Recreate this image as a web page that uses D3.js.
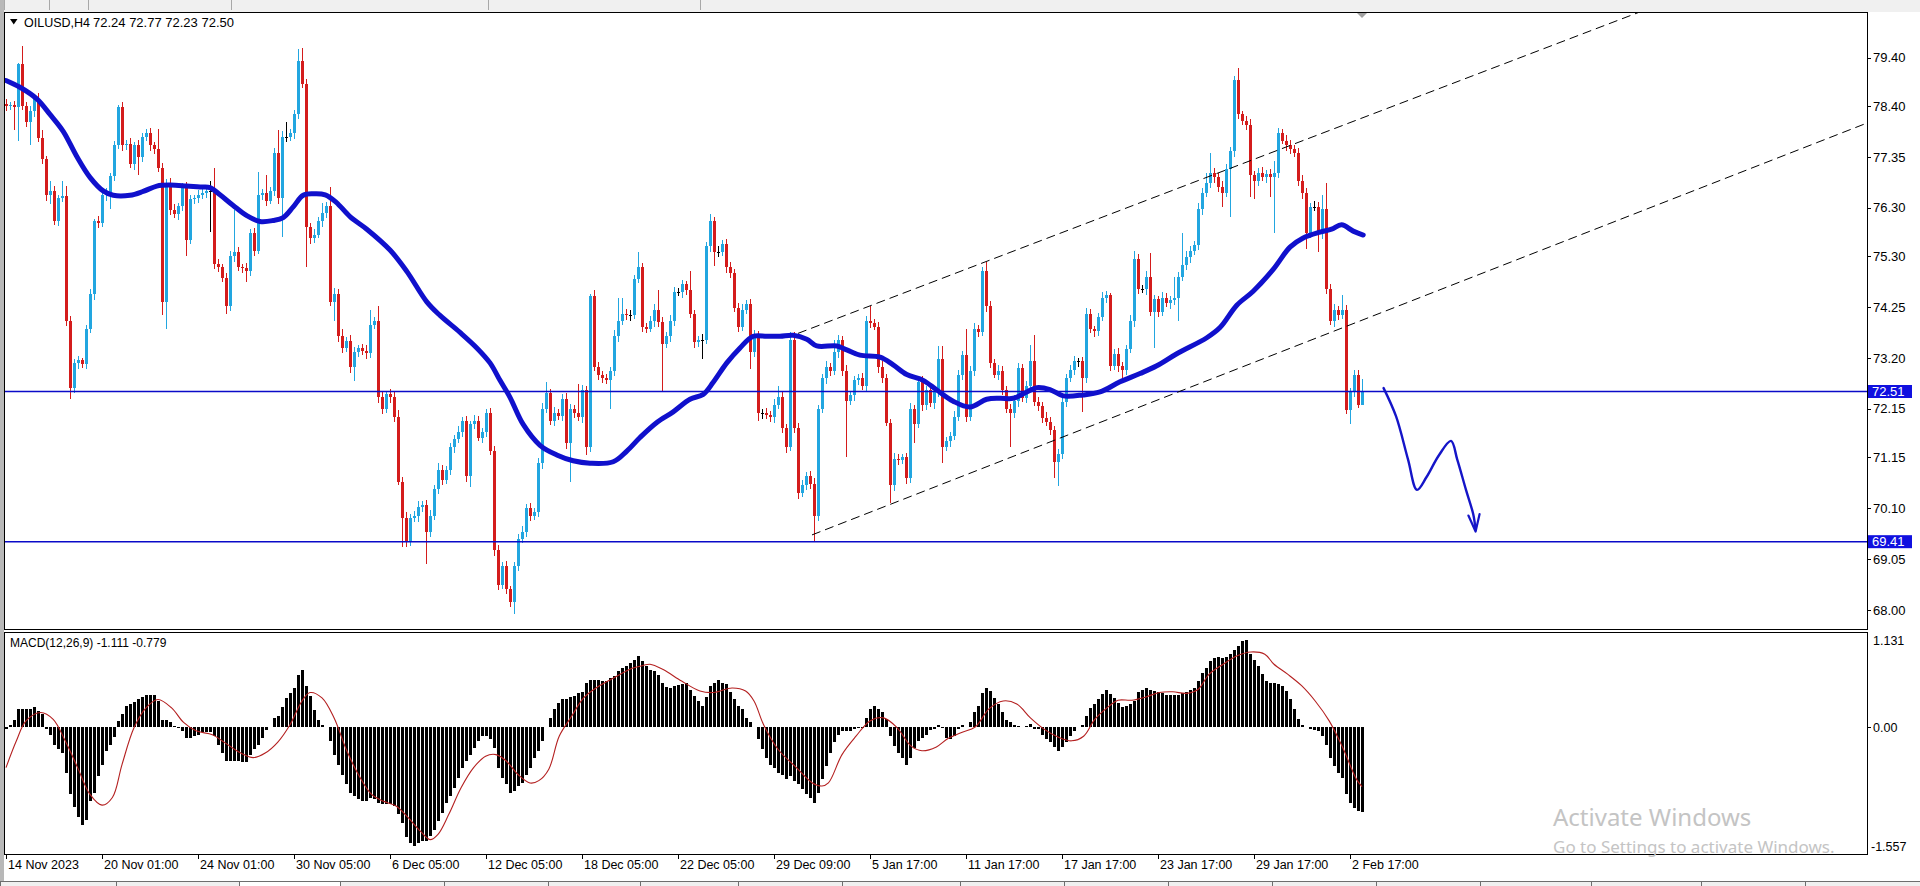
<!DOCTYPE html>
<html><head><meta charset="utf-8">
<script src="https://cdn.jsdelivr.net/npm/d3@7"></script>
<style>
html,body{margin:0;padding:0;background:#fff;overflow:hidden}
svg{display:block}
text{font-family:"Liberation Sans",Arial,sans-serif;font-size:12px;fill:#000}
</style>
</head><body>
<svg id="c" width="1920" height="886"></svg>
<script>
// ---------------- DATA ----------------
const symbol = "OILUSD,H4";
const lastQuote = "72.24 72.77 72.23 72.50";
const macdTitle = "MACD(12,26,9) -1.111 -0.779";
const watermark1 = "Activate Windows";
const watermark2 = "Go to Settings to activate Windows.";

const firstOpen = 78.45;
const closes = [
78.40,78.42,78.38,79.26,78.40,78.07,78.30,78.55,77.75,77.30,
76.57,76.65,76.02,76.50,76.55,73.97,72.58,73.10,73.15,73.08,
73.80,74.52,76.02,75.98,76.57,76.62,76.96,77.60,78.39,77.60,
77.62,77.20,77.60,77.35,77.76,77.84,77.60,77.52,77.13,74.36,
76.81,76.26,76.18,76.34,76.73,75.63,76.49,76.50,76.57,76.60,
76.65,76.65,75.15,75.07,74.85,74.28,75.30,75.39,75.07,75.05,
75.00,75.78,75.42,76.57,76.60,76.45,76.65,77.44,76.50,77.76,
77.76,77.84,78.23,79.34,78.86,75.90,75.67,75.75,76.02,76.20,
76.34,74.36,74.52,73.65,73.40,73.55,73.02,73.33,73.40,73.35,
73.30,73.89,73.97,72.39,72.15,72.45,72.40,71.99,70.65,69.90,
69.42,69.90,69.94,70.13,70.17,69.62,69.94,70.49,70.89,70.69,
70.89,71.36,71.52,71.68,71.91,70.77,71.83,71.91,71.56,71.68,
72.07,71.28,69.23,68.52,68.91,68.44,68.16,68.91,69.46,69.62,
70.10,69.94,70.02,71.04,72.15,72.47,71.91,72.07,72.00,72.35,
71.44,72.15,72.07,71.99,72.54,71.36,74.48,73.02,72.86,72.78,
72.74,72.94,73.65,73.97,74.12,74.08,74.08,74.84,75.07,73.85,
73.81,73.97,74.20,73.95,73.49,73.65,73.97,74.56,74.56,74.72,
74.60,74.10,73.53,73.57,73.57,75.51,76.02,75.39,75.39,75.55,
75.07,74.95,74.24,73.85,74.20,74.32,73.33,73.65,72.07,72.07,
72.03,71.99,72.23,72.39,71.75,71.36,73.57,71.75,70.41,70.57,
70.77,70.61,69.94,72.15,72.78,73.02,72.94,73.33,73.57,72.94,
72.31,72.43,72.74,72.78,72.62,73.97,73.93,73.85,73.02,72.78,
71.87,70.57,71.12,71.10,71.15,70.73,72.15,71.83,72.70,72.23,
72.54,72.27,72.50,73.18,71.36,71.48,71.60,71.99,72.86,73.26,
71.99,72.94,73.81,73.73,74.99,74.28,73.10,72.86,72.94,72.54,
72.15,72.07,72.31,73.00,72.38,72.63,73.13,72.30,72.21,71.97,
71.88,71.72,71.05,71.22,72.30,72.79,72.96,73.13,73.13,72.79,
74.12,73.79,73.75,74.04,74.45,74.50,73.04,73.29,73.04,72.96,
73.38,73.96,75.24,74.62,74.62,74.87,74.16,74.41,74.16,74.45,
74.33,74.40,74.45,74.87,75.12,75.28,75.41,75.53,76.28,76.61,
76.82,77.02,76.94,76.73,76.61,77.11,77.48,78.93,78.23,78.10,
78.02,76.98,76.86,77.02,76.94,77.00,76.94,77.02,77.85,77.69,
77.60,77.52,77.44,76.86,76.61,75.78,76.32,76.32,75.78,76.28,
74.62,73.96,74.20,74.08,74.20,72.13,72.50,72.85,72.24,72.50];

// upper / lower wick lengths in cents
const upWick = [
10,6,8,4,38,8,10,6,12,15, 8,20,10,6,30,21,10,8,10,6, 8,10,6,12,8,10,6,8,4,10,
8,12,6,10,8,8,10,6,40,10, 8,10,12,6,8,10,8,6,10,8, 6,20,48,10,8,10,12,87,10,8,
12,8,10,48,10,37,8,10,46,12, 31,8,10,24,27,10,8,12,10,20, 8,39,12,10,14,8,12,10,8,10,
12,31,8,31,10,8,12,10,14,10, 12,8,10,12,8,10,12,8,15,10, 8,8,10,12,8,10,8,12,10,8,
8,10,10,12,8,10,6,8,10,12, 8,10,8,10,12,23,10,12,8,10, 12,10,8,59,10,8,4,12,10,8,
10,8,12,47,32,10,12,8,32,10, 8,10,12,40,10,8,12,10,8,10, 8,39,10,8,12,8,16,10,12,8,
10,12,8,10,12,8,10,12,10,8, 10,8,12,23,10,8,16,16,10,12, 8,10,12,8,10,12,8,24,10,8,
12,10,8,10,12,10,31,8,10,12, 10,8,12,10,8,10,12,8,10,12, 8,10,12,27,27,10,8,12,10,8,
55,10,12,8,8,20,10,8,12,10, 8,10,12,10,8,10,33,54,10,8, 12,10,8,10,12,8,10,12,8,10,
12,10,8,10,12,8,5,10,12,8, 10,12,17,10,8,12,50,10,8,12, 10,8,42,10,66,12,10,8,12,10,
20,42,10,8,12,10,8,10,25,8, 10,12,8,10,12,8,10,25,10,8, 12,10,8,10,12,10,8,12,10,29,
54,10,12,8,30,10,8,10,10,27];
const dnWick = [
10,8,48,70,8,10,47,12,8,10, 12,20,8,10,8,10,23,10,12,8, 10,8,12,10,8,12,35,10,8,12,
10,8,12,38,10,8,12,10,8,28, 56,10,8,12,10,32,8,12,10,8, 10,85,12,10,8,18,10,12,8,10,
24,10,12,8,10,12,8,10,12,80, 10,8,12,10,8,83,12,10,8,12, 10,8,39,12,10,8,12,30,10,8,
12,10,8,12,10,8,12,10,8,60, 12,10,8,12,10,67,12,8,10,12, 8,10,12,8,10,12,24,10,8,12,
10,8,12,10,8,12,10,24,10,8, 12,10,8,10,12,8,10,12,8,10, 12,79,10,8,12,16,10,8,12,10,
8,59,10,12,8,10,12,8,10,12, 10,8,12,10,99,8,12,10,8,12, 10,8,12,10,39,8,12,28,10,8,
12,10,8,12,10,8,35,10,16,12, 8,10,12,8,10,12,8,10,12,8, 10,12,52,10,8,12,10,8,12,10,
115,8,12,10,8,12,10,8,12,10, 8,36,12,10,8,12,10,39,8,12, 10,8,12,10,32,8,12,10,8,12,
10,8,12,10,8,12,10,8,12,10, 8,71,10,12,8,10,12,8,10,12, 8,10,33,49,10,12,8,10,12,70,
10,8,12,10,8,12,10,8,12,20, 10,8,12,10,8,12,10,75,12,10, 8,12,10,49,8,10,12,8,10,12,
8,10,12,10,29,8,100,12,10,8, 12,45,37,10,8,12,42,116,10,8, 12,10,8,10,12,33,10,8,40,12,
10,8,12,10,8,8,29,10,8,1];

// moving average (read at sample bars)
const maIdx = [0,3.5,7.7,11,14.3,17.7,21,24.3,26.8,31,34.3,37.7,41,45.2,48.5,51,53.5,56.8,60.2,63.5,66.8,69.3,71.8,74.3,76.8,79.8,82.5,86,90.2,96,100.2,105.2,108.5,113.5,117.7,121,123.5,126,129.3,133.5,137.7,141.8,146,151.8,155.2,158.5,162.7,166.8,171,174.3,176.8,180.2,183.5,186.8,190.2,193.5,196.8,200.2,202.7,207.7,210.2,213.5,218.5,221.8,225.2,229.3,232.7,236.8,241,245.2,248.5,251.8,255.2,257.7,261,264.3,269.3,273.5,278.5,283.5,287.7,292.7,300.2,303.5,307.7,311.8,316.8,321,324.3,328.5,331.4,333.9,336.8,339.3];
const maVal = [78.93,78.79,78.55,78.23,77.88,77.36,76.93,76.65,76.56,76.56,76.64,76.75,76.77,76.75,76.73,76.72,76.57,76.35,76.14,76.02,76.04,76.10,76.32,76.56,76.59,76.57,76.42,76.12,75.86,75.43,74.99,74.36,74.08,73.73,73.41,73.10,72.74,72.39,71.83,71.40,71.20,71.08,71.03,71.06,71.28,71.56,71.87,72.09,72.35,72.45,72.70,73.10,73.41,73.65,73.65,73.65,73.67,73.59,73.45,73.45,73.37,73.26,73.22,73.06,72.86,72.74,72.54,72.31,72.19,72.35,72.37,72.37,72.50,72.59,72.55,72.42,72.44,72.50,72.71,72.88,73.04,73.29,73.62,73.83,74.29,74.58,75.03,75.49,75.68,75.80,75.86,75.95,75.82,75.74];

const priceTicks = [79.40,78.40,77.35,76.30,75.30,74.25,73.20,72.15,71.15,70.10,69.05,68.00];
const levels = [72.51, 69.41];
const channelUpper = [[198, 73.71],[244, 75.16]];
const channelLower = [[201.5, 69.55],[262, 71.50]];
const arrowIdx = [344.4,347.5,350.5,352.75,355.1,358.2,361.25,362.8,365,366.8,367.4];
const arrowVal = [72.58,72.00,71.11,70.48,70.74,71.19,71.49,71.11,70.48,69.98,69.65];
const arrowHeadIdx = [365.6,367.4,368.4];
const arrowHeadVal = [69.95,69.62,69.98];

const macdHist = [
-0.03,0.03,0.09,0.23,0.23,0.24,0.24,0.26,0.21,0.17,
-0.03,-0.10,-0.23,-0.29,-0.34,-0.60,-0.88,-1.05,-1.18,-1.28,
-1.21,-0.97,-0.86,-0.64,-0.49,-0.31,-0.23,-0.13,0.08,0.17,
0.27,0.30,0.33,0.36,0.39,0.42,0.42,0.42,0.34,0.09,
0.09,0.06,0.02,-0.01,-0.05,-0.14,-0.14,-0.12,-0.10,-0.07,
-0.06,-0.07,-0.12,-0.23,-0.34,-0.44,-0.44,-0.44,-0.44,-0.45,
-0.45,-0.36,-0.29,-0.23,-0.14,-0.04,0.00,0.12,0.14,0.26,
0.38,0.45,0.51,0.68,0.74,0.54,0.40,0.22,0.09,0.03,
0.00,-0.18,-0.36,-0.49,-0.63,-0.75,-0.86,-0.90,-0.94,-0.96,
-0.96,-0.92,-0.94,-0.99,-1.00,-1.00,-1.00,-1.03,-1.14,-1.25,
-1.44,-1.52,-1.557,-1.51,-1.49,-1.49,-1.42,-1.34,-1.23,-1.12,
-0.99,-0.90,-0.79,-0.66,-0.53,-0.44,-0.36,-0.27,-0.18,-0.12,
-0.12,-0.16,-0.27,-0.53,-0.66,-0.75,-0.86,-0.84,-0.77,-0.73,
-0.62,-0.53,-0.40,-0.31,-0.18,0.00,0.12,0.23,0.32,0.37,
0.37,0.39,0.40,0.45,0.46,0.58,0.62,0.62,0.61,0.60,
0.60,0.64,0.67,0.73,0.77,0.80,0.84,0.88,0.93,0.86,
0.80,0.74,0.73,0.68,0.58,0.52,0.51,0.54,0.55,0.56,
0.57,0.49,0.40,0.34,0.27,0.39,0.54,0.58,0.61,0.58,
0.56,0.46,0.36,0.27,0.23,0.12,0.06,0.00,-0.15,-0.29,
-0.41,-0.50,-0.53,-0.60,-0.63,-0.68,-0.64,-0.70,-0.75,-0.81,
-0.88,-0.92,-0.99,-0.86,-0.68,-0.51,-0.34,-0.19,-0.10,-0.05,
-0.05,-0.05,-0.03,-0.01,-0.01,0.12,0.24,0.27,0.24,0.20,
0.10,-0.12,-0.25,-0.34,-0.40,-0.49,-0.40,-0.28,-0.18,-0.14,
-0.10,-0.04,-0.03,0.03,-0.01,-0.14,-0.16,-0.12,-0.03,0.03,
0.00,0.07,0.19,0.27,0.45,0.51,0.47,0.38,0.30,0.19,
0.09,0.06,0.03,0.01,0.00,0.01,0.04,-0.02,-0.03,-0.10,
-0.15,-0.19,-0.26,-0.31,-0.26,-0.19,-0.12,-0.05,0.00,0.03,
0.14,0.25,0.30,0.36,0.43,0.49,0.43,0.38,0.32,0.26,
0.27,0.30,0.34,0.46,0.49,0.51,0.49,0.47,0.46,0.44,
0.42,0.42,0.42,0.42,0.44,0.46,0.48,0.51,0.60,0.71,
0.77,0.86,0.90,0.91,0.90,0.91,0.95,1.00,1.06,1.12,
1.131,0.95,0.88,0.80,0.69,0.60,0.57,0.57,0.56,0.54,
0.47,0.36,0.23,0.10,0.03,0.00,-0.03,-0.04,-0.05,-0.12,
-0.23,-0.40,-0.51,-0.60,-0.66,-0.88,-0.99,-1.06,-1.10,-1.111];
const sigIdx = [0,2.6,5,8.7,11.8,14.8,17.9,21,24,26.6,29,32,35,38,41.4,44.4,47.5,51.6,54.6,58.7,61.8,64.8,67.9,71,74,76,79,82,85.2,88.3,91.4,94.4,97.5,100.5,103.6,106,108,110.7,113.8,116.9,119.9,122.5,125,128,131,133.2,135.7,138.3,141.4,144.4,147.5,150.5,153.6,156.7,159,161,164.3,168.9,173.5,176.9,181.5,184.9,187,189.4,193,197.6,201.6,204,205.6,209,212.5,216,219.4,222.8,226.3,229,232.6,235.5,238.9,242.3,245.8,249.3,252.7,256.1,259.6,263,266.4,269.4,272.2,275.7,278,281.4,284.8,288.3,291.7,295.1,298,300.8,304.3,307.8,311.2,314.7,317,320.4,323.9,327.3,330.8,334.2,337.6,339];
const sigVal = [-0.53,-0.18,0.08,0.19,0.10,-0.18,-0.53,-0.88,-1.02,-0.92,-0.49,-0.01,0.25,0.36,0.25,0.06,-0.05,-0.10,-0.20,-0.34,-0.40,-0.34,-0.20,0.03,0.34,0.45,0.38,0.12,-0.31,-0.64,-0.88,-0.97,-1.03,-1.18,-1.36,-1.47,-1.40,-1.14,-0.79,-0.53,-0.38,-0.36,-0.44,-0.62,-0.73,-0.70,-0.55,-0.12,0.14,0.38,0.51,0.60,0.69,0.77,0.80,0.82,0.75,0.60,0.47,0.45,0.51,0.47,0.34,0.03,-0.29,-0.53,-0.73,-0.77,-0.73,-0.36,-0.12,0.08,0.12,-0.01,-0.25,-0.31,-0.26,-0.15,-0.07,0.00,0.24,0.34,0.30,0.12,-0.03,-0.13,-0.18,-0.12,0.10,0.27,0.35,0.35,0.39,0.45,0.46,0.44,0.49,0.69,0.82,0.93,0.98,0.95,0.82,0.69,0.54,0.34,0.08,-0.27,-0.68,-0.779];
const macdTicks = [1.131, 0.00, -1.557];

const timeIdx = [0,24,48,72,96,120,144,168,192,216,240,264,288,312,336];
const timeLabels = ["14 Nov 2023","20 Nov 01:00","24 Nov 01:00","30 Nov 05:00","6 Dec 05:00","12 Dec 05:00","18 Dec 05:00","22 Dec 05:00","29 Dec 09:00","5 Jan 17:00","11 Jan 17:00","17 Jan 17:00","23 Jan 17:00","29 Jan 17:00","2 Feb 17:00"];

// ---------------- LAYOUT ----------------
const W = 1920, H = 886;
const L = 4, R = 1867;           // chart frame
const mainTop = 12, mainBot = 629;
const subTop = 632, subBot = 854;
const tabTop = 881;
const tabEdges = [0,116,239,340,444,548,640,738,842,960,1064,1168,1272,1376,1480,1591,1701,1805,1920];
const bullCol = "#22a6e0", bearCol = "#d41c1c";

const svg = d3.select("#c");
const defs = svg.append("defs");
defs.append("clipPath").attr("id","clipMain").append("rect").attr("x",L+1).attr("y",mainTop+1).attr("width",R-L-1).attr("height",mainBot-mainTop-1);
defs.append("clipPath").attr("id","clipSub").append("rect").attr("x",L+1).attr("y",subTop+1).attr("width",R-L-1).attr("height",subBot-subTop-1);

// background / window chrome
svg.append("rect").attr("width",W).attr("height",H).attr("fill","#fff");
svg.append("rect").attr("x",0).attr("y",0).attr("width",W).attr("height",mainTop).attr("fill","#f0f0f0");
[4,49,88,231,488,700].forEach(px=>svg.append("line").attr("x1",px+0.5).attr("x2",px+0.5).attr("y1",0).attr("y2",mainTop-2).attr("stroke","#a8a8a8"));
svg.append("rect").attr("x",0).attr("y",0).attr("width",L).attr("height",H).attr("fill","#b8b8b8");

// scales
const n = closes.length;
const x = d3.scaleLinear().domain([0, n-1]).range([6, 1362]);
const y = d3.scaleLinear().domain([68.00, 79.40]).range([610, 57.7]);
const ym = d3.scaleLinear().domain([-1.557, 1.131]).range([846.3, 640.4]);

// frames
const frame = svg.append("g").attr("fill","none").attr("stroke","#000").attr("shape-rendering","crispEdges");
frame.append("rect").attr("x",L+0.5).attr("y",mainTop+0.5).attr("width",R-L).attr("height",mainBot-mainTop);
frame.append("rect").attr("x",L+0.5).attr("y",subTop+0.5).attr("width",R-L).attr("height",subBot-subTop);

// ---------- candles ----------
const bars = closes.map((c,i)=>{
  const o = i===0 ? firstOpen : closes[i-1];
  return {i,o,c,h:Math.max(o,c)+upWick[i]/100,l:Math.min(o,c)-dnWick[i]/100};
});
const colOf = d => Math.abs(d.c-d.o)<0.005 ? "#000" : (d.c>d.o ? bullCol : bearCol);
const gMain = svg.append("g").attr("clip-path","url(#clipMain)").attr("shape-rendering","crispEdges");
gMain.selectAll("rect.wick").data(bars).join("rect").attr("class","wick")
  .attr("x",d=>Math.round(x(d.i))).attr("width",1)
  .attr("y",d=>Math.round(y(d.h))).attr("height",d=>Math.max(1,Math.round(y(d.l))-Math.round(y(d.h))))
  .attr("fill",colOf);
gMain.selectAll("rect.body").data(bars).join("rect").attr("class","body")
  .attr("x",d=>Math.round(x(d.i))-1).attr("width",3)
  .attr("y",d=>Math.round(y(Math.max(d.o,d.c))))
  .attr("height",d=>Math.max(1,Math.round(y(Math.min(d.o,d.c)))-Math.round(y(Math.max(d.o,d.c)))))
  .attr("fill",colOf);

// ---------- overlays ----------
const gOver = svg.append("g").attr("clip-path","url(#clipMain)");
gOver.selectAll("line.lvl").data(levels).join("line").attr("class","lvl")
  .attr("x1",L).attr("x2",R).attr("y1",d=>y(d)).attr("y2",d=>y(d))
  .attr("stroke","#0a0ac8").attr("stroke-width",1.6);
const maPts = maIdx.map((v,k)=>[v,maVal[k]]);
gOver.append("path").datum(maPts)
  .attr("d",d3.line().x(d=>x(d[0])).y(d=>y(d[1])).curve(d3.curveCatmullRom.alpha(0.5)))
  .attr("fill","none").attr("stroke","#1010cc").attr("stroke-width",5).attr("stroke-linecap","round").attr("stroke-linejoin","round");
const xEnd = x.invert(R);
function ray(p){
  const s = (p[1][1]-p[0][1])/(p[1][0]-p[0][0]);
  return [[p[0][0],p[0][1]],[xEnd,p[0][1]+s*(xEnd-p[0][0])]];
}
[channelUpper, channelLower].forEach(ch=>{
  gOver.append("path").datum(ray(ch))
    .attr("d",d3.line().x(d=>x(d[0])).y(d=>y(d[1])))
    .attr("fill","none").attr("stroke","#000").attr("stroke-width",1).attr("stroke-dasharray","9,5");
});
const arrPts = arrowIdx.map((v,k)=>[v,arrowVal[k]]);
gOver.append("path").datum(arrPts)
  .attr("d",d3.line().x(d=>x(d[0])).y(d=>y(d[1])).curve(d3.curveCatmullRom.alpha(0.5)))
  .attr("fill","none").attr("stroke","#1515c8").attr("stroke-width",2.4).attr("stroke-linecap","round").attr("stroke-linejoin","round");
gOver.append("path").datum(arrowHeadIdx.map((v,k)=>[v,arrowHeadVal[k]]))
  .attr("d",d3.line().x(d=>x(d[0])).y(d=>y(d[1])))
  .attr("fill","none").attr("stroke","#1515c8").attr("stroke-width",2.2).attr("stroke-linecap","round").attr("stroke-linejoin","round");

// chart shift marker
svg.append("path").attr("d",`M${x(n-1)-5},${mainTop+1}L${x(n-1)+5},${mainTop+1}L${x(n-1)},${mainTop+6}Z`).attr("fill","#a0a0a0");

// header
svg.append("path").attr("d","M10,19L17.5,19L13.75,24.5Z").attr("fill","#000");
svg.append("text").attr("x",24).attr("y",27).style("font-size","12.5px").text(symbol);
svg.append("text").attr("x",93).attr("y",27).style("font-size","13px").text(lastQuote);

// price axis
const gAx = svg.append("g");
gAx.selectAll("line").data(priceTicks).join("line")
  .attr("x1",R).attr("x2",R+4).attr("y1",d=>Math.round(y(d))+0.5).attr("y2",d=>Math.round(y(d))+0.5).attr("stroke","#000");
gAx.selectAll("text").data(priceTicks).join("text")
  .attr("x",R+6).attr("y",d=>y(d)+4.5).style("font-size","13px").text(d=>d.toFixed(2));
levels.forEach(v=>{
  svg.append("rect").attr("x",R+1).attr("y",y(v)-6.5).attr("width",44).attr("height",13).attr("fill","#1010e0");
  svg.append("text").attr("x",R+5).attr("y",y(v)+4.5).style("font-size","13px").style("fill","#fff").text(v.toFixed(2));
});

// ---------- MACD ----------
const gSub = svg.append("g").attr("clip-path","url(#clipSub)");
gSub.append("g").attr("shape-rendering","crispEdges").selectAll("rect").data(macdHist.map((v,i)=>({i,v}))).join("rect")
  .attr("x",d=>Math.round(x(d.i))-1).attr("width",3)
  .attr("y",d=>Math.round(Math.min(ym(0),ym(d.v))))
  .attr("height",d=>Math.abs(Math.round(ym(d.v))-Math.round(ym(0))))
  .attr("fill","#000");
gSub.append("path").datum(sigIdx.map((v,k)=>[v,sigVal[k]]))
  .attr("d",d3.line().x(d=>x(d[0])).y(d=>ym(d[1])).curve(d3.curveCatmullRom.alpha(0.5)))
  .attr("fill","none").attr("stroke","#b42020").attr("stroke-width",1.1);
svg.append("text").attr("x",10).attr("y",647).text(macdTitle);
svg.append("g").selectAll("text").data(macdTicks).join("text")
  .attr("x",d=>d<0?R+4:R+6).attr("y",d=>ym(d)+4.5).style("font-size","12.5px").text(d=>d===0?"0.00":d.toFixed(3));
svg.append("line").attr("x1",R).attr("x2",R+4).attr("y1",Math.round(ym(0))+0.5).attr("y2",Math.round(ym(0))+0.5).attr("stroke","#000");

// ---------- time axis ----------
const gT = svg.append("g");
gT.selectAll("line").data(timeIdx).join("line")
  .attr("x1",d=>Math.round(x(d))+0.5).attr("x2",d=>Math.round(x(d))+0.5)
  .attr("y1",subBot).attr("y2",subBot+5).attr("stroke","#000");
gT.selectAll("text").data(timeIdx).join("text")
  .attr("x",d=>x(d)+2).attr("y",869).style("font-size","12.5px").text((d,k)=>timeLabels[k]);

// ---------- bottom tabs ----------
svg.append("rect").attr("x",0).attr("y",tabTop).attr("width",W).attr("height",H-tabTop).attr("fill","#f0f0f0");
svg.append("rect").attr("x",tabEdges[2]).attr("y",tabTop).attr("width",tabEdges[3]-tabEdges[2]).attr("height",H-tabTop).attr("fill","#fff");
svg.append("line").attr("x1",0).attr("x2",W).attr("y1",tabTop+0.5).attr("y2",tabTop+0.5).attr("stroke","#6e6e6e");
svg.append("g").selectAll("line").data(tabEdges).join("line")
  .attr("x1",d=>d+0.5).attr("x2",d=>d+0.5).attr("y1",tabTop).attr("y2",H).attr("stroke","#6e6e6e");

// ---------- watermark ----------
svg.append("text").attr("x",1553).attr("y",826).style("font-family","'Noto Sans','Open Sans',sans-serif").style("font-size","24px").style("fill","#c4c4c4").text(watermark1);
svg.append("text").attr("x",1553).attr("y",853).style("font-family","'Noto Sans','Open Sans',sans-serif").style("font-size","17px").style("fill","#c4c4c4").text(watermark2);
</script>
</body></html>
